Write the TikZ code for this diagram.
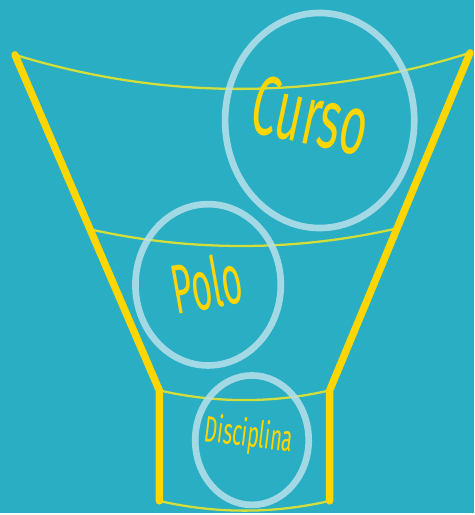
\documentclass[tikz,border=0pt]{standalone}
\usepackage{fontspec}
\setmainfont{Fira Sans}
\usetikzlibrary{positioning,calc,shapes.geometric}
\usepackage{xcolor}
\definecolor{FunnelBg}{HTML}{29AEC4}
\definecolor{FunnelYellow}{HTML}{FFD600}
\definecolor{FunnelRim}{HTML}{D4DE3A}
\definecolor{FunnelRing}{HTML}{B9E0EB}

\begin{document}
\begin{tikzpicture}[x=0.02cm, y=-0.02cm,
  wall/.style={FunnelYellow, line width=4.2pt, line cap=round, line join=round},
  rim/.style={FunnelRim, line width=1.3pt},
  ring/.style={ellipse, draw=FunnelRing, line width=3.8pt, draw opacity=0.85, inner sep=0pt},
  tag/.style={FunnelYellow, inner sep=0pt}]
  \fill[FunnelBg] (0,0) rectangle (476,515);                 % background
  \coordinate (topL) at (15,55);   \coordinate (topR) at (472,53);
  \coordinate (neckL) at (160,392); \coordinate (neckR) at (331,392);
  \coordinate (footL) at (160,503); \coordinate (footR) at (331,503);
  \coordinate (midL) at ($(topL)!0.52!(neckL)$); \coordinate (midR) at ($(topR)!0.52!(neckR)$);
  % rims
  \draw[rim] (topL) .. controls ($(topL)!0.33!(topR)+(0,47)$) and ($(topL)!0.67!(topR)+(0,47)$) .. (topR);
  \draw[rim] (midL) .. controls ($(midL)!0.33!(midR)+(0,23)$) and ($(midL)!0.67!(midR)+(0,23)$) .. (midR);
  \draw[rim] (neckL) .. controls ($(neckL)!0.33!(neckR)+(0,13)$) and ($(neckL)!0.67!(neckR)+(0,13)$) .. (neckR);
  \draw[rim] (footL) .. controls ($(footL)!0.33!(footR)+(0,13)$) and ($(footL)!0.67!(footR)+(0,13)$) .. (footR);
  % walls
  \draw[wall] (topL) -- (neckL) -- (footL);
  \draw[wall] (topR) -- (neckR) -- (footR);
  % rings
  \node[ring, minimum width=3.8cm, minimum height=4.32cm] (cursoRing) at (321,121) {};
  \node[ring, minimum width=2.92cm, minimum height=3.24cm] (poloRing) at (209,286) {};
  \node[ring, minimum width=2.28cm, minimum height=2.6cm] (disciplinaRing) at (253,442) {};
  % labels
  \node[tag, rotate=-12] (curso) at ($(cursoRing.center)+(-9,-5)$) {\fontsize{48}{48}\selectfont\scalebox{0.55}[1]{Curso}};
  \node[tag, rotate=10] (polo) at ($(poloRing.center)+(-2,-2)$) {\fontsize{40}{40}\selectfont\scalebox{0.5}[1]{Polo}};
  \node[tag, rotate=-7] (disciplina) at ($(disciplinaRing.center)+(-3,-4)$) {\fontsize{21}{21}\selectfont\scalebox{0.54}[1]{Disciplina}};
\end{tikzpicture}
\end{document}
